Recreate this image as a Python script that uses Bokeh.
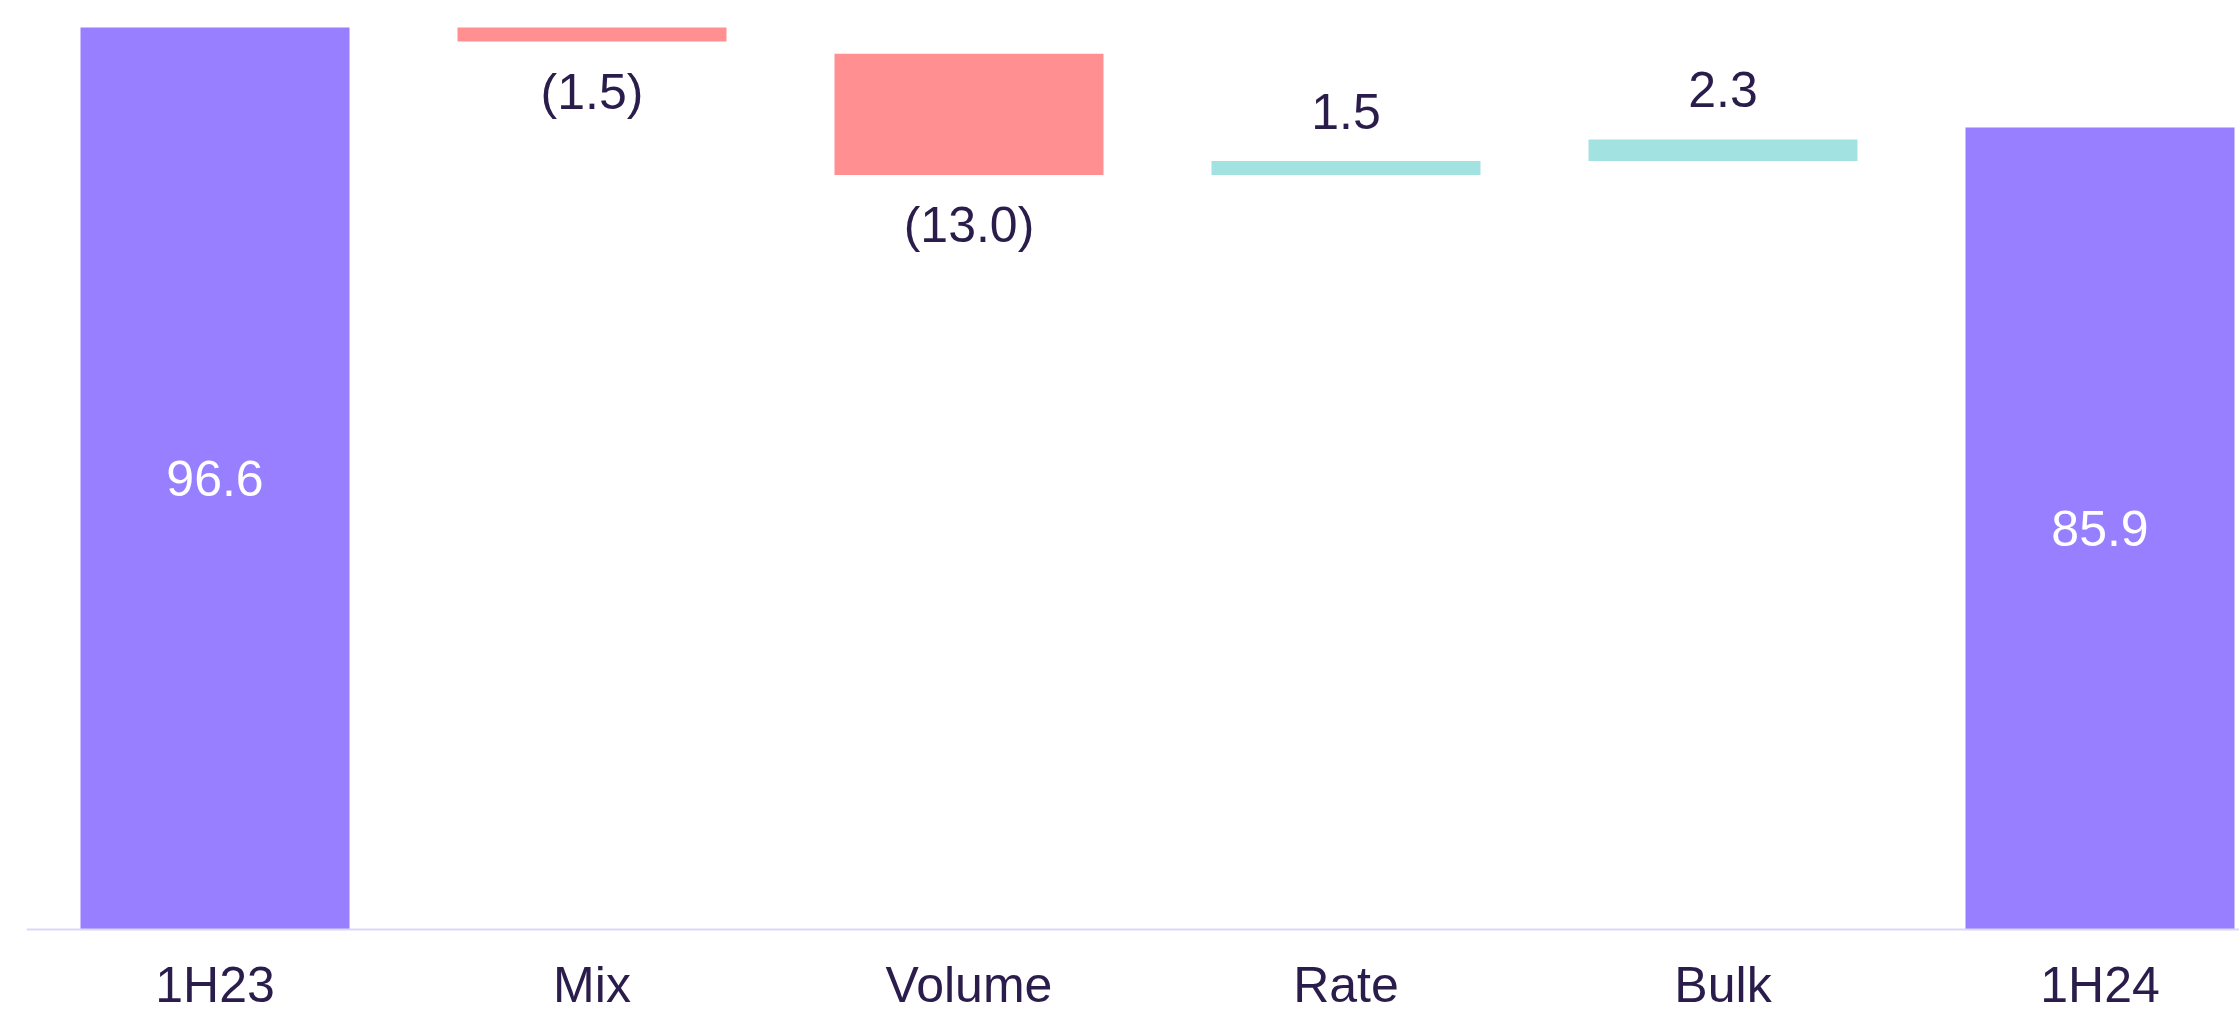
from bokeh.plotting import figure
from bokeh.models import Range1d, ColumnDataSource, Span
from bokeh.core.properties import value
from bokeh.embed import file_html
from bokeh.resources import INLINE

# ---- data ----
categories = ["1H23", "Mix", "Volume", "Rate", "Bulk", "1H24"]
deltas = [96.6, -1.5, -13.0, 1.5, 2.3, 85.9]
starts = [0.0, 96.6, 93.8, 80.8, 82.3, 0.0]      # where each floating bar begins
value_labels = ["96.6", "(1.5)", "(13.0)", "1.5", "2.3", "85.9"]

# ---- styling ----
PURPLE = "#977FFF"
PINK = "#FF8F91"
TEXT = "#2B1D4B"
TEAL = "#A2E3E2"
AXIS = "#DDD6F5"
FONT = "Liberation Sans"

W, H = 2239, 1014
LEFT = 26
FRAME_W = W - LEFT
FRAME_H = H
SLOT = 377.0                      # pixels per category
PX_PER_UNIT = 9.338
X0 = -0.5
X1 = X0 + FRAME_W / SLOT
Y1 = 96.6 + 27 / PX_PER_UNIT
Y0 = Y1 - FRAME_H / PX_PER_UNIT
PX = 1.0 / PX_PER_UNIT            # data units per pixel

xs = list(range(len(categories)))
ends = [s + d for s, d in zip(starts, deltas)]
bottoms = [min(s, e) for s, e in zip(starts, ends)]
tops = [max(s, e) for s, e in zip(starts, ends)]
colors = []
lab_y = []
lab_col = []
for s, d, b, t in zip(starts, deltas, bottoms, tops):
    if s == 0:
        colors.append(PURPLE)
        lab_y.append((b + t) / 2)
        lab_col.append("white")
    elif d < 0:
        colors.append(PINK)
        lab_y.append(b - 50 * PX)
        lab_col.append(TEXT)
    else:
        colors.append(TEAL)
        lab_y.append(t + 50 * PX)
        lab_col.append(TEXT)

src = ColumnDataSource(dict(x=xs, bottom=bottoms, top=tops, color=colors,
                            label=value_labels, ly=lab_y, lcol=lab_col,
                            cat=categories, cy=[-55 * PX] * len(xs)))

p = figure(width=W, height=H, x_range=Range1d(X0, X1), y_range=Range1d(Y0, Y1),
           output_backend="svg", toolbar_location=None,
           x_axis_location=None, y_axis_location=None,
           min_border_left=LEFT, min_border_right=0, min_border_top=0, min_border_bottom=0)
p.grid.visible = False
p.outline_line_color = None
p.background_fill_color = "white"
p.border_fill_color = "white"

p.vbar(x="x", width=269 / SLOT, bottom="bottom", top="top", fill_color="color",
       line_color=None, source=src)

p.add_layout(Span(location=0, dimension="width", line_color=AXIS, line_width=2))

p.text(x="x", y="ly", text="label", text_color="lcol", source=src,
       text_align="center", text_baseline="middle",
       text_font=value(FONT), text_font_size="50px")

p.text(x="x", y="cy", text="cat", text_color=TEXT, source=src,
       text_align="center", text_baseline="middle",
       text_font=value(FONT), text_font_size="50px")

open("out.html", "w").write(file_html(p, INLINE))
